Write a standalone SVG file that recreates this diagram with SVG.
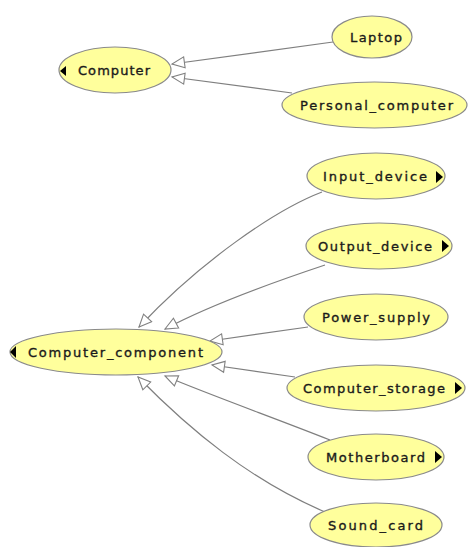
<svg xmlns="http://www.w3.org/2000/svg" width="468" height="547" viewBox="0 0 468 547">
  <defs>
    <marker id="hollow" markerUnits="userSpaceOnUse" markerWidth="16" markerHeight="14" refX="14" refY="7" orient="auto">
      <path d="M1.5,1.5 L14,7 L1.5,12.5 z" fill="#ffffff" stroke="#808080" stroke-width="1.1"/>
    </marker>
    <style>
      .node ellipse { fill: #ffff9c; stroke: #8a8a8a; stroke-width: 1.2; }
      .node text { font-family: "DejaVu Sans", "Liberation Sans", sans-serif; font-size: 13px; fill: #1a1a1a; stroke: #1a1a1a; stroke-width: 0.35; }
      .node polygon { fill: #000000; }
      #edges path { fill: none; stroke: #7f7f7f; stroke-width: 1.2; marker-end: url(#hollow); }
    </style>
  </defs>
  <rect width="468" height="547" fill="#ffffff"/>

  <g id="edges">
    <path d="M333,42 L172,64"/>
    <path d="M292,93 L172,77"/>
    <path d="M322,192 C275,210 200,262 139,327"/>
    <path d="M325,265 C280,280 210,305 165,329"/>
    <path d="M308,327 L210,341"/>
    <path d="M295,377 L212,365"/>
    <path d="M330,440 C280,420 210,395 165,376"/>
    <path d="M325,512 C250,480 190,430 138,377"/>
  </g>

  <g id="computer" class="node">
    <ellipse cx="115" cy="70" rx="56" ry="23"/>
    <polygon points="60,71 66,66 66,76"/>
    <text x="78" y="75" textLength="72" lengthAdjust="spacing">Computer</text>
  </g>
  <g id="laptop" class="node">
    <ellipse cx="372" cy="37" rx="40" ry="21"/>
    <text x="350" y="42" textLength="52" lengthAdjust="spacing">Laptop</text>
  </g>
  <g id="personal_computer" class="node">
    <ellipse cx="374.5" cy="105" rx="92.5" ry="23"/>
    <text x="300" y="110" textLength="153" lengthAdjust="spacing">Personal_computer</text>
  </g>
  <g id="input_device" class="node">
    <ellipse cx="376" cy="176" rx="69" ry="23"/>
    <text x="323" y="181" textLength="104" lengthAdjust="spacing">Input_device</text>
    <polygon points="436,171 436,183 443,177"/>
  </g>
  <g id="output_device" class="node">
    <ellipse cx="379" cy="246" rx="73" ry="23"/>
    <text x="318" y="251" textLength="114" lengthAdjust="spacing">Output_device</text>
    <polygon points="442,240 442,252 449,246"/>
  </g>
  <g id="power_supply" class="node">
    <ellipse cx="376" cy="317" rx="72" ry="23"/>
    <text x="322" y="322" textLength="108" lengthAdjust="spacing">Power_supply</text>
  </g>
  <g id="computer_component" class="node">
    <ellipse cx="116" cy="352" rx="106" ry="23"/>
    <polygon points="10,352 16,346 16,358"/>
    <text x="28" y="357" textLength="175" lengthAdjust="spacing">Computer_component</text>
  </g>
  <g id="computer_storage" class="node">
    <ellipse cx="376" cy="388" rx="89" ry="23"/>
    <text x="303" y="393" textLength="142" lengthAdjust="spacing">Computer_storage</text>
    <polygon points="455,382 455,394 462,388"/>
  </g>
  <g id="motherboard" class="node">
    <ellipse cx="376" cy="457" rx="68" ry="23"/>
    <text x="326" y="462" textLength="99" lengthAdjust="spacing">Motherboard</text>
    <polygon points="435,451 435,463 442,457"/>
  </g>
  <g id="sound_card" class="node">
    <ellipse cx="376" cy="525" rx="66" ry="22"/>
    <text x="328" y="530" textLength="95" lengthAdjust="spacing">Sound_card</text>
  </g>
</svg>
